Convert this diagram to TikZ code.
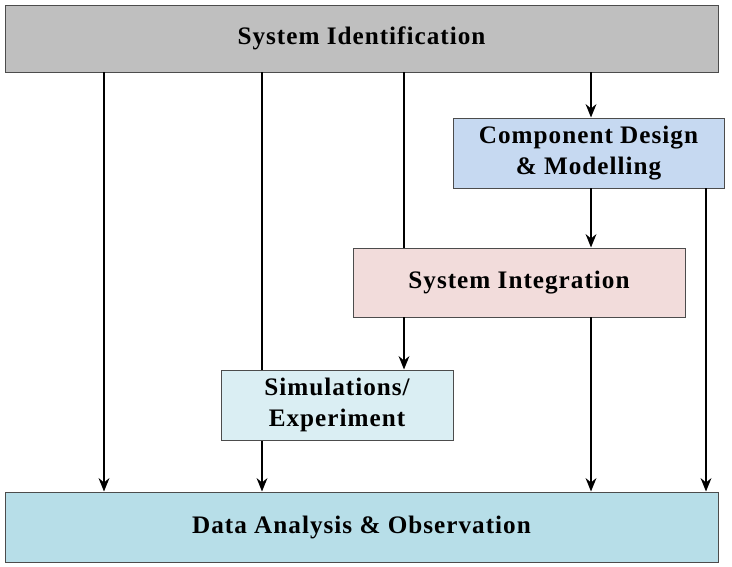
\documentclass[tikz,border=0pt]{standalone}
\usepackage{fontspec}
\setmainfont{Liberation Serif}[LetterSpace=4]
\usetikzlibrary{positioning, arrows.meta}
\definecolor{xgray}{HTML}{BFBFBF}
\definecolor{xblue}{HTML}{C6D9F1}
\definecolor{xpink}{HTML}{F2DCDB}
\definecolor{xcyan}{HTML}{DAEEF3}
\definecolor{xteal}{HTML}{B7DEE8}
\tikzset{
  stage/.style = {draw=black!70, thick, fill=#1, align=center, inner sep=0pt,
    font=\fontsize{21.5}{29}\selectfont\bfseries},
  flow/.style = {line width=2pt, -{Stealth[length=4mm, width=3.2mm]}},
}
\begin{document}
\begin{tikzpicture}[x=0.03cm, y=-0.03cm]
      \useasboundingbox (0,0) rectangle (732,567);
      % columns
      \coordinate (c1) at (104,0);
      \coordinate (c2) at (262,0);
      \coordinate (c3) at (404,0);
      \coordinate (c4) at (591,0);
      \coordinate (c5) at (706,0);

      \node[stage=xgray, minimum width=713*0.03cm, minimum height=67*0.03cm] (sysid) at (361.5,38.5) {System Identification};
      \node[stage=xteal, minimum width=713*0.03cm, minimum height=70*0.03cm] (data) at (361.5,527) {Data Analysis \& Observation};

      % long line behind the simulations box
      \draw[flow] (sysid.south -| c2) -- (data.north -| c2);

      \node[stage=xblue, minimum width=271*0.03cm, minimum height=70*0.03cm] (comp) at (588.5,153) {Component Design\\[-2pt]\& Modelling};
      \node[stage=xpink, minimum width=332*0.03cm, minimum height=69*0.03cm] (integ) at (519,282.5) {System Integration};
      \node[stage=xcyan, minimum width=232*0.03cm, minimum height=70*0.03cm] (sim) at (337,405) {Simulations/\\[-2pt]Experiment};

      \draw[flow] (sysid.south -| c1) -- (data.north -| c1);
      \draw[line width=2pt] (sysid.south -| c3) -- (integ.north -| c3);
      \draw[flow] (integ.south -| c3) -- (sim.north -| c3);
      \draw[flow] (sysid.south -| c4) -- (comp.north -| c4);
      \draw[flow] (comp.south -| c4) -- (integ.north -| c4);
      \draw[flow] (integ.south -| c4) -- (data.north -| c4);
      \draw[flow] (comp.south -| c5) -- (data.north -| c5);
\end{tikzpicture}
\end{document}
